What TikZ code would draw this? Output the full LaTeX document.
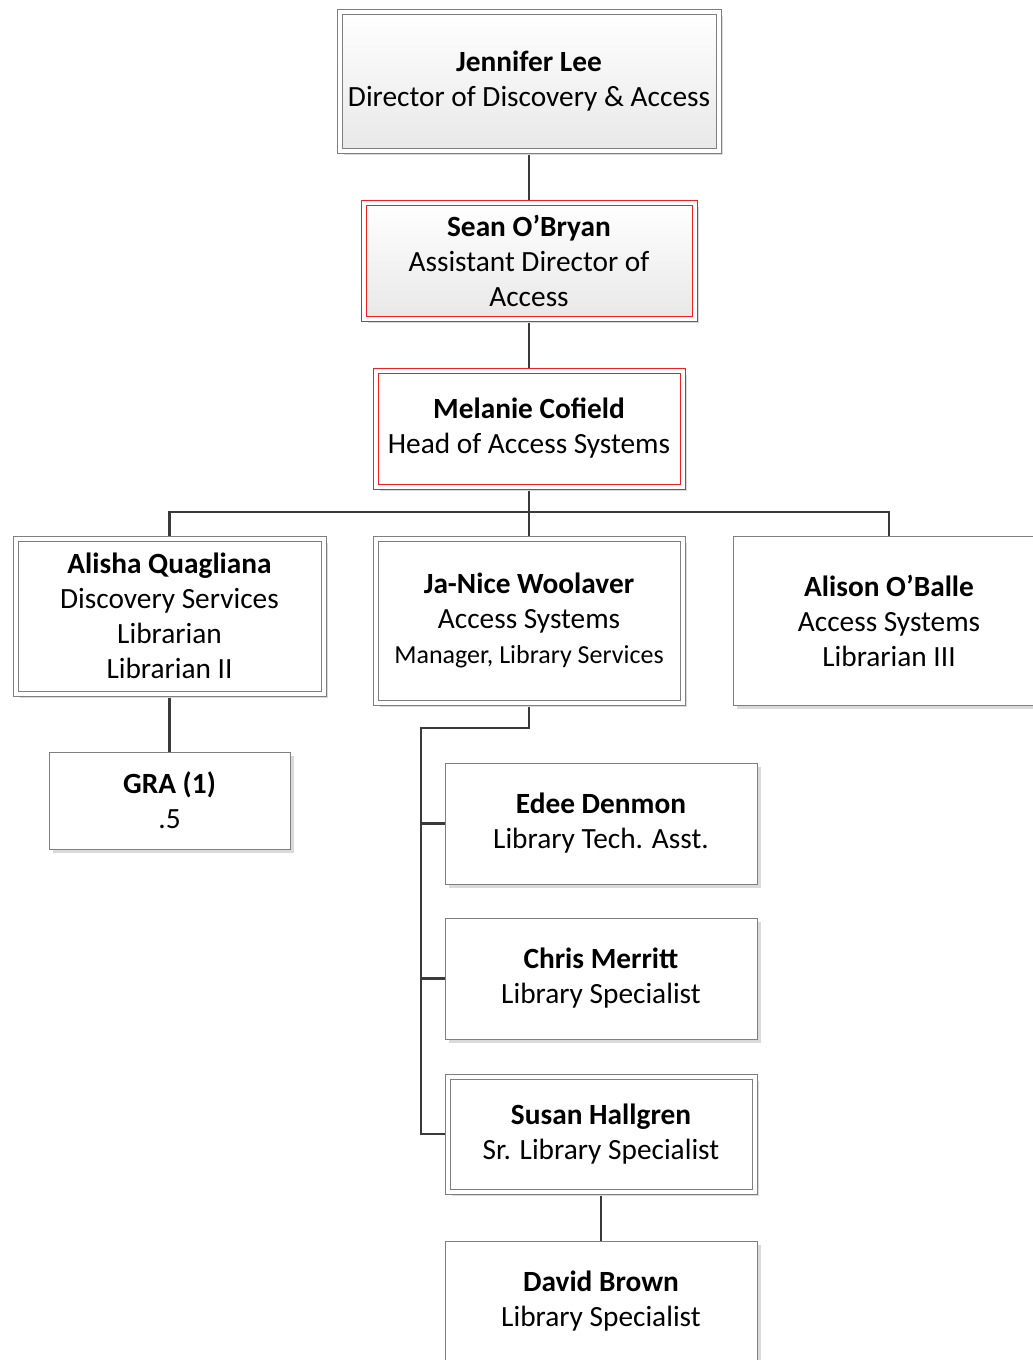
\documentclass[tikz,border=0pt]{standalone}
\usepackage{fontspec}
\setmainfont{Carlito}
\usetikzlibrary{shadows,backgrounds}
\definecolor{conncol}{HTML}{3A3A3A}
\definecolor{bordcol}{HTML}{7F7F7F}
\definecolor{shadcol}{HTML}{DADADA}
\definecolor{redcol}{HTML}{F02020}
\begin{document}
\begin{tikzpicture}[x=0.75pt,y=-0.75pt,
  box/.style={draw=bordcol, line width=0.75pt, fill=white, align=center,
    inner sep=0pt, outer sep=0pt, font=\fontsize{22}{26.25}\selectfont,
    drop shadow={shadow xshift=3pt, shadow yshift=-3pt, fill=shadcol, opacity=1}},
  dbl/.style={double=white, double distance=3pt},
  grad/.style={top color=white, bottom color=black!9},
  redbox/.style={draw=redcol},
  wh/.style 2 args={minimum width=#1*0.75pt, minimum height=#2*0.75pt},
  conn/.style={draw=conncol, line width=1.6pt}]
\useasboundingbox (0,0) rectangle (1032,1360);
\node[box,dbl,grad,wh={379}{139}] (jen) at (529,81) {\textbf{Jennifer Lee}\\Director of Discovery \& Access};
\node[box,dbl,grad,redbox,wh={331}{116}] (sean) at (529,260.5) {\textbf{Sean O’Bryan}\\Assistant Director of\\Access};
\node[box,dbl,redbox,wh={307}{116}] (mel) at (529,428.5) {\textbf{Melanie Cofield}\\Head of Access Systems};
\node[box,dbl,wh={308}{155}] (ali) at (169.5,616) {\textbf{Alisha Quagliana}\\Discovery Services\\Librarian\\Librarian II};
\node[box,dbl,wh={307}{164}] (jan) at (529,620.5) {\textbf{Ja-Nice Woolaver}\\Access Systems\\{\fontsize{19.5}{26.25}\selectfont Manager, Library Services}};
\node[box,wh={312}{169}] (alo) at (889,620.5) {\textbf{Alison O’Balle}\\Access Systems\\Librarian III};
\node[box,wh={241}{97}] (gra) at (169.5,800.5) {\textbf{GRA (1)}\\.5};
\node[box,wh={312}{121}] (edee) at (601,823.5) {\textbf{Edee Denmon}\\Library Tech. Asst.};
\node[box,wh={312}{121}] (chris) at (601,978.5) {\textbf{Chris Merritt}\\Library Specialist};
\node[box,dbl,wh={307}{115}] (susan) at (601,1134) {\textbf{Susan Hallgren}\\Sr. Library Specialist};
\node[box,wh={312}{121}] (david) at (601,1301.5) {\textbf{David Brown}\\Library Specialist};
\begin{scope}[on background layer]
\draw[conn] (jen.south) -- (sean.north);
\draw[conn] (sean.south) -- (mel.north);
\coordinate (bus) at (529,512);
\draw[conn] (mel.south) -- (bus) -- (jan.north);
\draw[conn] (ali.north) |- (bus) -| (alo.north);
\draw[conn] (ali.south) -- (gra.north);
\coordinate (jbend) at (529,728);
\coordinate (jv) at (421,728);
\draw[conn] (jan.south) -- (jbend) -- (jv) |- (susan.west);
\draw[conn] (jv) |- (edee.west);
\draw[conn] (jv) |- (chris.west);
\draw[conn] (susan.south) -- (david.north);
\end{scope}
\end{tikzpicture}
\end{document}
